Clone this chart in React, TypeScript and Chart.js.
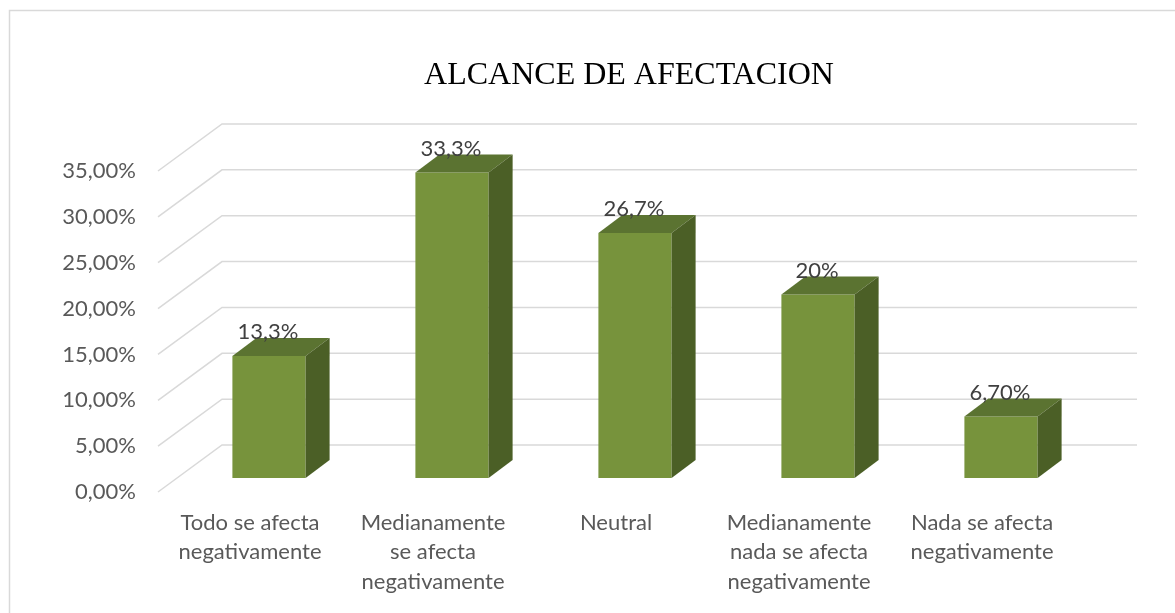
import React, { useEffect, useRef } from 'react';
import { Chart, registerables } from 'chart.js';

Chart.register(...registerables);

const TITLE = 'ALCANCE DE AFECTACION';
const categories: string[][] = [
  ['Todo se afecta', 'negativamente'],
  ['Medianamente', 'se afecta', 'negativamente'],
  ['Neutral'],
  ['Medianamente', 'nada se afecta', 'negativamente'],
  ['Nada se afecta', 'negativamente'],
];
const values = [13.3, 33.3, 26.7, 20, 6.7];
const valueLabels = ['13,3%', '33,3%', '26,7%', '20%', '6,70%'];
const yTickValues = [0, 5, 10, 15, 20, 25, 30, 35];

const FRONT_COLOR = '#77933C';
const TOP_COLOR = '#5B7331';
const SIDE_COLOR = '#4B5F26';
const GRID_COLOR = '#D9D9D9';
const TICK_COLOR = '#595959';
const VALUE_COLOR = '#404040';
const LABEL_FONT = 'Lato';

const W = 1175;
const H = 613;

// 3D geometry (pixel offsets relative to the bar plane)
const FRONT_OFF = { dx: -19.5, dy: 14 };
const BACK_OFF = { dx: 44.5, dy: -33 };
const BAR_DEPTH = { dx: 24, dy: -18 };

const threeD = {
  id: 'threeD',
  beforeDraw(chart: any) {
    const ctx = chart.ctx;
    ctx.save();
    ctx.fillStyle = '#FFFFFF';
    ctx.fillRect(0, 0, chart.width, chart.height);
    ctx.strokeStyle = GRID_COLOR;
    ctx.lineWidth = 1.5;
    ctx.strokeRect(9.5, 10.5, chart.width + 100, chart.height + 100);
    // title
    ctx.fillStyle = '#000000';
    ctx.font = '32px "Liberation Serif", "Times New Roman", serif';
    ctx.textAlign = 'center';
    ctx.textBaseline = 'alphabetic';
    ctx.fillText(TITLE, 629, 83.5);
    ctx.restore();
  },
  beforeDatasetsDraw(chart: any) {
    const ctx = chart.ctx;
    const ca = chart.chartArea;
    const y = chart.scales.y;
    ctx.save();
    ctx.strokeStyle = GRID_COLOR;
    ctx.lineWidth = 1.5;
    yTickValues.forEach((v) => {
      const yb = y.getPixelForValue(v);
      ctx.beginPath();
      ctx.moveTo(ca.left + FRONT_OFF.dx, yb + FRONT_OFF.dy);
      ctx.lineTo(ca.left + BACK_OFF.dx, yb + BACK_OFF.dy);
      ctx.lineTo(ca.right + BACK_OFF.dx, yb + BACK_OFF.dy);
      ctx.stroke();
    });
    ctx.restore();
  },
  afterDatasetsDraw(chart: any) {
    const ctx = chart.ctx;
    const meta = chart.getDatasetMeta(0);
    ctx.save();
    meta.data.forEach((bar: any, i: number) => {
      const p = bar.getProps(['x', 'y', 'base', 'width'], true);
      const l = p.x - p.width / 2;
      const r = p.x + p.width / 2;
      const t = p.y;
      const b = p.base;
      // top face
      ctx.fillStyle = TOP_COLOR;
      ctx.beginPath();
      ctx.moveTo(l, t);
      ctx.lineTo(r, t);
      ctx.lineTo(r + BAR_DEPTH.dx, t + BAR_DEPTH.dy);
      ctx.lineTo(l + BAR_DEPTH.dx, t + BAR_DEPTH.dy);
      ctx.closePath();
      ctx.fill();
      // side face
      ctx.fillStyle = SIDE_COLOR;
      ctx.beginPath();
      ctx.moveTo(r, t);
      ctx.lineTo(r + BAR_DEPTH.dx, t + BAR_DEPTH.dy);
      ctx.lineTo(r + BAR_DEPTH.dx, b + BAR_DEPTH.dy);
      ctx.lineTo(r, b);
      ctx.closePath();
      ctx.fill();
      // value label
      ctx.fillStyle = VALUE_COLOR;
      ctx.font = `22px ${LABEL_FONT}`;
      ctx.textAlign = 'center';
      ctx.textBaseline = 'middle';
      ctx.fillText(valueLabels[i], p.x - 1, t - 24);
    });
    ctx.restore();
  },
};

export default function App() {
  const ref = useRef<HTMLCanvasElement | null>(null);
  useEffect(() => {
    if (!ref.current) return;
    const chart = new Chart(ref.current, {
      type: 'bar',
      data: {
        labels: categories,
        datasets: [
          {
            data: values,
            backgroundColor: FRONT_COLOR,
            borderWidth: 0,
            categoryPercentage: 0.4,
            barPercentage: 1,
          },
        ],
      },
      options: {
        responsive: false,
        animation: false,
        layout: { padding: { top: 157, left: 0, right: 82.5, bottom: 0 } },
        plugins: {
          legend: { display: false },
          title: { display: false },
          tooltip: { enabled: false },
        },
        scales: {
          x: {
            grid: { display: false, drawTicks: false },
            border: { display: false },
            afterFit: (s: any) => {
              s.height = 135;
            },
            ticks: {
              color: TICK_COLOR,
              font: { family: LABEL_FONT, size: 22, lineHeight: 1.34 },
              padding: 30,
              labelOffset: -19,
              maxRotation: 0,
              autoSkip: false,
            },
          },
          y: {
            min: 0,
            max: 35,
            grid: { display: false, drawTicks: false },
            border: { display: false },
            afterFit: (s: any) => {
              s.width = 177.5;
            },
            ticks: {
              stepSize: 5,
              color: TICK_COLOR,
              font: { family: LABEL_FONT, size: 22 },
              padding: 41.5,
              labelOffset: 14,
              callback: (v: any) => Number(v).toFixed(2).replace('.', ',') + '%',
            },
          },
        },
      },
      plugins: [threeD],
    });
    return () => chart.destroy();
  }, []);
  return (
    <div style={{ position: 'fixed', left: 0, top: 0, width: W, height: H, background: '#fff' }}>
      <canvas ref={ref} width={W} height={H} style={{ display: 'block', width: W, height: H }} />
    </div>
  );
}
